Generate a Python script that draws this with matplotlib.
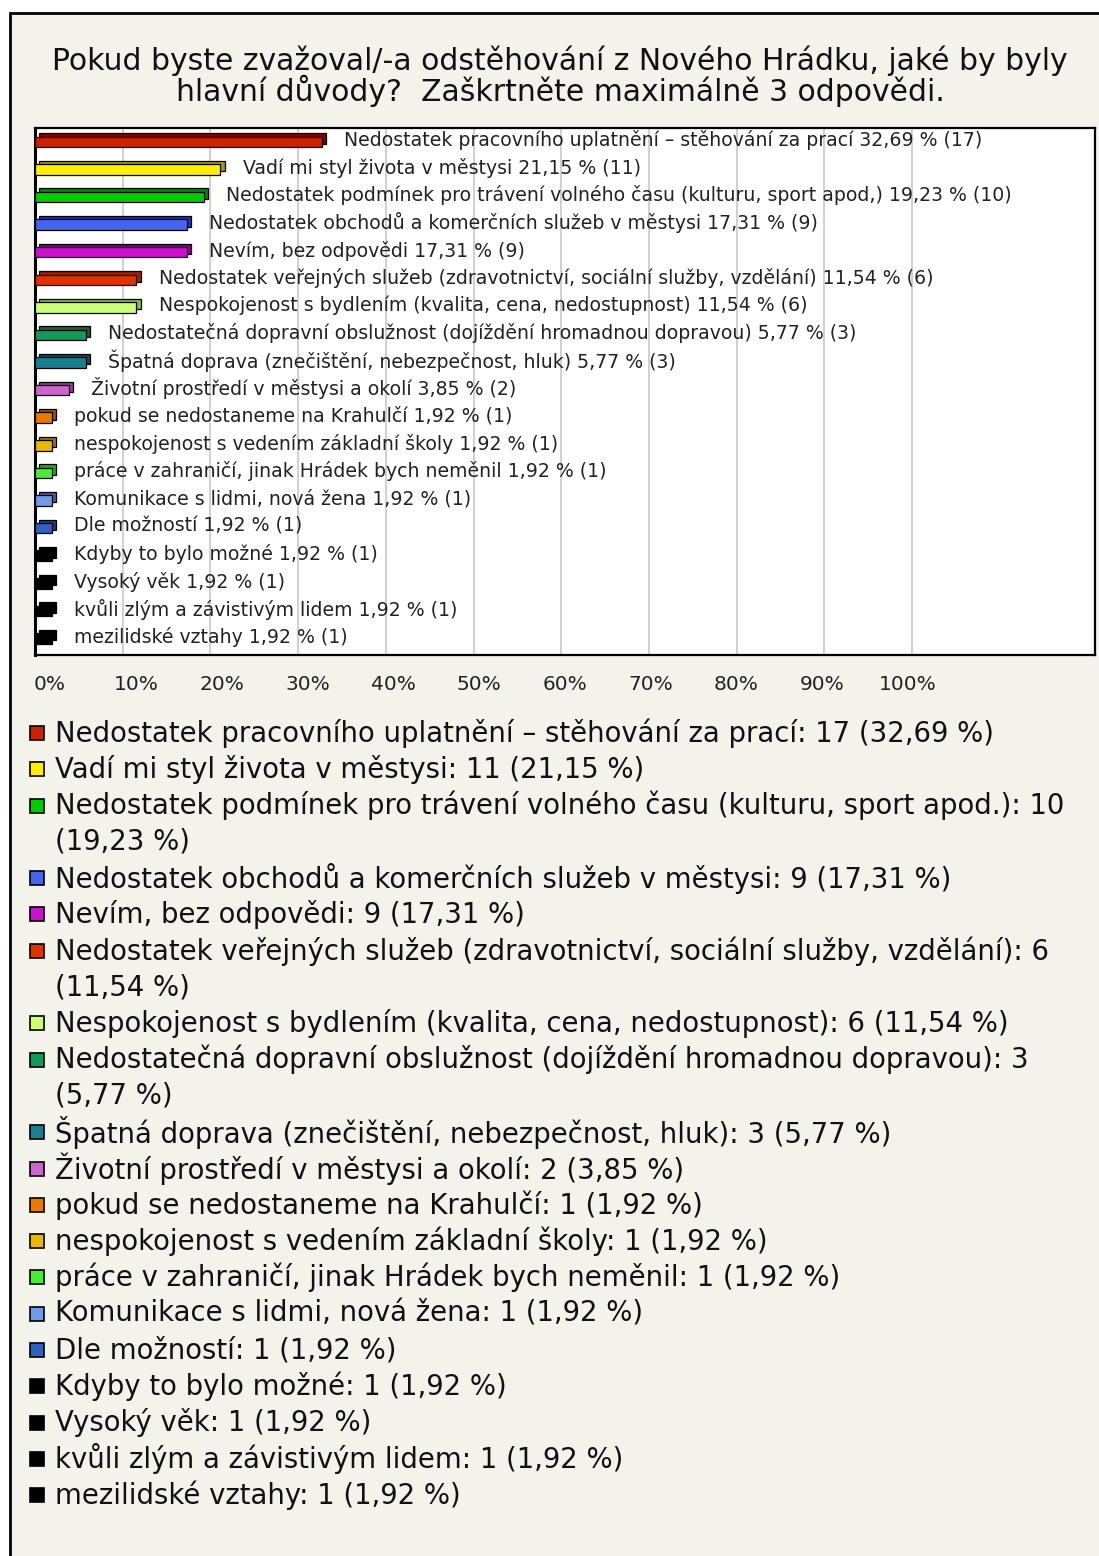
import matplotlib
matplotlib.use("Agg")
import matplotlib.pyplot as plt
from matplotlib.patches import Rectangle

categories = [
    "Nedostatek pracovního uplatnění – stěhování za prací",
    "Vadí mi styl života v městysi",
    "Nedostatek podmínek pro trávení volného času (kulturu, sport apod.)",
    "Nedostatek obchodů a komerčních služeb v městysi",
    "Nevím, bez odpovědi",
    "Nedostatek veřejných služeb (zdravotnictví, sociální služby, vzdělání)",
    "Nespokojenost s bydlením (kvalita, cena, nedostupnost)",
    "Nedostatečná dopravní obslužnost (dojíždění hromadnou dopravou)",
    "Špatná doprava (znečištění, nebezpečnost, hluk)",
    "Životní prostředí v městysi a okolí",
    "pokud se nedostaneme na Krahulčí",
    "nespokojenost s vedením základní školy",
    "práce v zahraničí, jinak Hrádek bych neměnil",
    "Komunikace s lidmi, nová žena",
    "Dle možností",
    "Kdyby to bylo možné",
    "Vysoký věk",
    "kvůli zlým a závistivým lidem",
    "mezilidské vztahy",
]
counts = [17, 11, 10, 9, 9, 6, 6, 3, 3, 2, 1, 1, 1, 1, 1, 1, 1, 1, 1]
percents = [32.69, 21.15, 19.23, 17.31, 17.31, 11.54, 11.54, 5.77, 5.77, 3.85,
            1.92, 1.92, 1.92, 1.92, 1.92, 1.92, 1.92, 1.92, 1.92]
front_colors = ["#cc2200", "#ffee00", "#00cc00", "#4466ee", "#cc11cc", "#e03300",
                "#ccff77", "#119955", "#1a8090", "#cc66cc", "#e87a00", "#e8b800",
                "#44ee33", "#7099e6", "#3060c0", "#000000", "#000000", "#000000", "#000000"]
back_colors = ["#880000", "#aa9900", "#008800", "#2233aa", "#880088", "#992200",
               "#88bb44", "#0a6633", "#0a5060", "#884488", "#a05000", "#a07800",
               "#22aa11", "#4060a0", "#1a3a80", "#000000", "#000000", "#000000", "#000000"]
tick_values = [0, 10, 20, 30, 40, 50, 60, 70, 80, 90, 100]
tick_labels = ["0%", "10%", "20%", "30%", "40%", "50%", "60%", "70%", "80%", "90%", "100%"]
title = ("Pokud byste zvažoval/-a odstěhování z Nového Hrádku, jaké by byly\n"
         "hlavní důvody?  Zaškrtněte maximálně 3 odpovědi.")

W, H = 1099, 1556
BG = "#f3f2eb"
plt.rcParams["font.family"] = ["DejaVu Sans"]
fig = plt.figure(figsize=(W / 100, H / 100), dpi=100)
fig.patch.set_facecolor("white")

def fx(px):
    return px / W

def fy(py):
    return 1 - py / H

# outer panel
fig.patches.append(Rectangle((fx(10), fy(1600)), fx(1200), fy(13) - fy(1600),
                             transform=fig.transFigure, facecolor=BG,
                             edgecolor="black", linewidth=2, zorder=-10))

fig.text(fx(560), fy(76), title, ha="center", va="center", fontsize=21.5,
         color="#111111", linespacing=0.95)

# axes
ax_l, ax_r, ax_t, ax_b = 35, 1095, 128, 655
PX_PER_PCT = 8.77
ax = fig.add_axes([fx(ax_l), fy(ax_b), fx(ax_r - ax_l), fy(ax_t) - fy(ax_b)])
ax.set_zorder(1)
ax.set_facecolor("white")
xmax = (ax_r - ax_l) / PX_PER_PCT
ax.set_xlim(0, xmax)
n = len(categories)
ax.set_ylim(n - 0.4, -0.5)
for v in tick_values[1:]:
    ax.axvline(v, color="#c8c8c8", linewidth=1.2, zorder=0)

ys = list(range(n))
dx, dy = 0.5, 0.12
h = 0.38
ax.barh([y - dy for y in ys], percents, left=dx, height=h, color=back_colors,
        edgecolor="black", linewidth=0.9, zorder=2)
ax.barh(ys, percents, left=0, height=h, color=front_colors,
        edgecolor="black", linewidth=0.9, zorder=3)

for y, cat, p, c in zip(ys, categories, percents, counts):
    lab = f"{cat} {p:.2f}".replace(".", ",") + f" % ({c})"
    ax.annotate(lab, (p + dx, y - dy / 2), xytext=(13, 0), textcoords="offset points",
                ha="left", va="center", fontsize=13.6, color="#222222", zorder=4)

ax.set_xticks([])
ax.set_yticks([])
for s in ax.spines.values():
    s.set_linewidth(1.6)
    s.set_color("black")
ax.spines["left"].set_linewidth(2.2)

# x tick labels below axes
for v, t in zip(tick_values, tick_labels):
    xpix = ax_l + v * PX_PER_PCT
    fig.text(fx(xpix + 15 - v * 0.19), fy(685), t, ha="center", va="center",
             fontsize=14.5, color="#222222")

# legend
renderer = fig.canvas.get_renderer()
line_h = 36.3
ypix = 733
max_w = 1000
LFS = 19.8
for cat, p, c, col in zip(categories, percents, counts, front_colors):
    pct = f"({p:.2f}".replace(".", ",") + " %)"
    full = f"{cat}: {c} {pct}"
    t = fig.text(fx(55), fy(ypix), full, ha="left", va="center", fontsize=LFS,
                 color="#111111")
    bb = t.get_window_extent(renderer)
    fig.patches.append(Rectangle((fx(30), fy(ypix + 7)), fx(14), fy(ypix - 7) - fy(ypix + 7),
                                 transform=fig.transFigure, facecolor=col,
                                 edgecolor="black", linewidth=1.2, zorder=3))
    if bb.width > max_w:
        t.set_text(f"{cat}: {c}")
        ypix += line_h
        fig.text(fx(55), fy(ypix), pct, ha="left", va="center", fontsize=LFS,
                 color="#111111")
    ypix += line_h

fig.savefig("out.png", dpi=100, facecolor=fig.get_facecolor())
